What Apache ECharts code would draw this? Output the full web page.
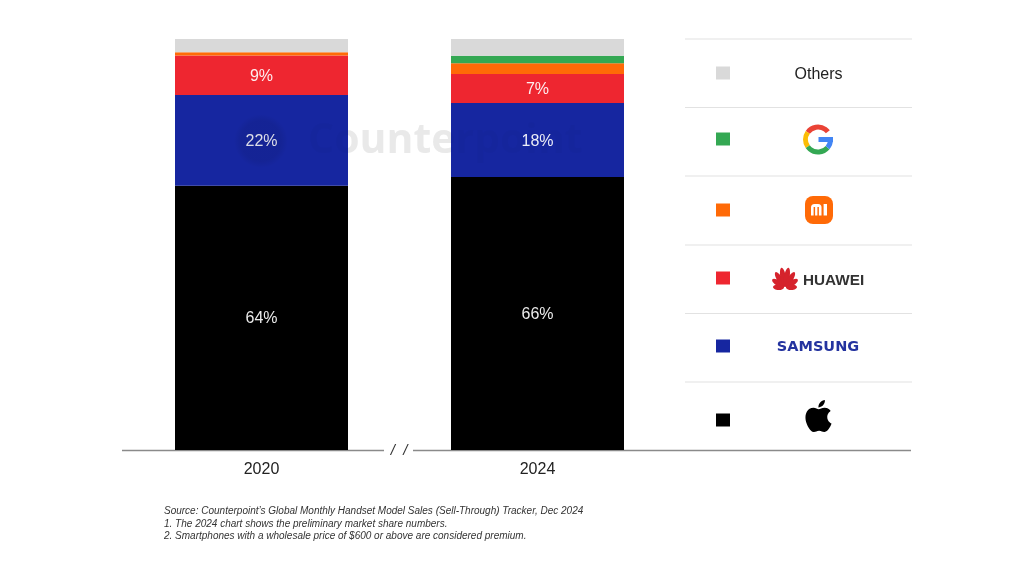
<!DOCTYPE html>
<html><head><meta charset="utf-8">
<style>html,body{margin:0;padding:0;background:#fff}#c{width:1024px;height:576px}</style>
<script src="https://cdn.jsdelivr.net/npm/echarts@6/dist/echarts.min.js"></script>
</head><body><div id="c"></div>
<script>
const years = ['2020', '2024'];
const apple = [64.3, 66.4];
const samsung = [22.1, 18.0];
const huawei = [9.6, 7.1];
const xiaomi = [0.8, 2.6];
const google = [0, 1.8];
const others = [3.2, 4.1];
const appleLabels = ['64%', '66%'];
const samsungLabels = ['22%', '18%'];
const huaweiLabels = ['9%', '7%'];
const colors = { apple: '#000000', samsung: '#1626a0', huawei: '#ee2630', xiaomi: '#ff6a07', google: '#34a853', others: '#d9d9d9' };
const footnotes = [
  'Source: Counterpoint\u2019s Global Monthly Handset Model Sales (Sell-Through) Tracker, Dec 2024',
  '1. The 2024 chart shows the preliminary market share numbers.',
  '2. Smartphones with a wholesale price of $600 or above are considered premium.'
];
const FONT = '"Liberation Sans", Arial, sans-serif';
const APPLE_PATH = 'M12.152 6.896c-.948 0-2.415-1.078-3.96-1.04-2.04.027-3.91 1.183-4.961 3.014-2.117 3.675-.546 9.103 1.519 12.09 1.013 1.454 2.208 3.09 3.792 3.039 1.52-.065 2.09-.987 3.935-.987 1.831 0 2.35.987 3.96.948 1.637-.026 2.676-1.48 3.676-2.948 1.156-1.688 1.636-3.325 1.662-3.415-.039-.013-3.182-1.221-3.22-4.857-.026-3.04 2.48-4.494 2.597-4.559-1.429-2.09-3.623-2.324-4.39-2.376-2-.156-3.675 1.09-4.61 1.09zM15.53 3.83c.843-1.012 1.4-2.427 1.245-3.83-1.207.052-2.662.805-3.532 1.818-.78.896-1.454 2.338-1.273 3.714 1.338.104 2.715-.688 3.559-1.701';

function seg(name, data, color, labels) {
  return {
    name, type: 'bar', stack: 'share', data, barWidth: 173,
    itemStyle: { color },
    label: labels ? { show: true, position: 'inside', offset: [0, 1], color: 'rgba(255,255,255,0.92)', fontSize: 16, fontFamily: FONT,
      formatter: p => labels[p.dataIndex] } : { show: false },
    emphasis: { disabled: true }
  };
}

const g = [];
function hline(x1, x2, y, color, w) {
  g.push({ type: 'line', shape: { x1, y1: y, x2, y2: y }, style: { stroke: color, lineWidth: w }, silent: true });
}
// axis with break
hline(122, 384, 450.5, '#8a8a8a', 1.4);
hline(413, 911, 450.5, '#8a8a8a', 1.4);
g.push({ type: 'text', style: { x: 399, y: 451, text: '/  /', font: 'italic 15px ' + FONT, fill: '#333', align: 'center', verticalAlign: 'middle' } });

// legend dividers
[39, 107.5, 176, 245, 313.5, 382].forEach(y => hline(685, 912, y, '#e2e2e2', 1.2));

// legend squares
[['others', 73], ['google', 139], ['xiaomi', 210], ['huawei', 278], ['samsung', 346], ['apple', 420]].forEach(([k, cy]) => {
  g.push({ type: 'rect', shape: { x: 716, y: cy - 6.5, width: 14, height: 13 }, style: { fill: colors[k] } });
});

// Others
g.push({ type: 'text', style: { x: 818.5, y: 74.5, text: 'Others', font: '16px ' + FONT, fill: '#222', align: 'center', verticalAlign: 'middle' } });

// Google G
const gc = { cx: 818, cy: 139.5, r: 12.5 };
const d = Math.PI / 180;
[['#ea4335', -145, -38], ['#fbbc05', 145, 215], ['#34a853', 40, 145], ['#4285f4', 0, 40]].forEach(([c, a, b]) => {
  g.push({ type: 'arc', shape: { ...gc, startAngle: a * d, endAngle: b * d, clockwise: true }, style: { stroke: c, lineWidth: 5, fill: 'none' } });
});
g.push({ type: 'rect', shape: { x: 818.5, y: 137, width: 14.5, height: 5 }, style: { fill: '#4285f4' } });

// Xiaomi
g.push({ type: 'rect', shape: { x: 805, y: 196, width: 28, height: 28, r: 8 }, style: { fill: '#ff6a07' } });
g.push({ type: 'rect', shape: { x: 811, y: 204, width: 10.5, height: 11.5, r: [3.5, 3.5, 0, 0] }, style: { fill: '#fff' } });
g.push({ type: 'rect', shape: { x: 813.6, y: 207, width: 1.5, height: 9 }, style: { fill: '#ff6a07' } });
g.push({ type: 'rect', shape: { x: 817.4, y: 207, width: 1.5, height: 9 }, style: { fill: '#ff6a07' } });
g.push({ type: 'rect', shape: { x: 823.6, y: 204, width: 3.4, height: 11.5 }, style: { fill: '#fff' } });

// Huawei
[[-88, 11], [-58, 14], [-32, 17], [-10, 19], [10, 19], [32, 17], [58, 14], [88, 11]].forEach(([a, len]) => {
  g.push({ type: 'ellipse', x: 785, y: 287.5, rotation: -a * d,
    shape: { cx: 0, cy: -len / 2 - 1, rx: 2.8, ry: len / 2 }, style: { fill: '#d5232c' } });
});
g.push({ type: 'text', style: { x: 803, y: 280.5, text: 'HUAWEI', font: 'bold 15.3px ' + FONT, fill: '#333', align: 'left', verticalAlign: 'middle' } });

// Samsung
g.push({ type: 'text', style: { x: 818, y: 347, text: 'SAMSUNG', font: 'bold 14.5px "DejaVu Sans", sans-serif', fill: '#24339f', align: 'center', verticalAlign: 'middle' } });

// Footnotes
footnotes.forEach((t, i) => {
  g.push({ type: 'text', style: { x: 164, y: [511.5, 524, 536][i], text: t, font: 'italic 10px ' + FONT, fill: '#333', align: 'left', verticalAlign: 'middle' } });
});

// Watermark: pale grey on the white ground, barely visible over the bars
const WM = { x: 308, y: 141, text: 'Counterpoint', font: 'bold 41px "Open Sans", ' + FONT, align: 'left', verticalAlign: 'middle' };
g.push({ type: 'text', z: 0, style: { ...WM, fill: '#eeeeee' } });
g.push({ type: 'text', z: 20, style: { ...WM, fill: 'rgba(0,0,0,0.02)' } });
g.push({ type: 'circle', z: 20, shape: { cx: 261, cy: 141, r: 27 }, style: {
  fill: new echarts.graphic.RadialGradient(0.5, 0.5, 0.5, [
    { offset: 0, color: 'rgba(0,0,0,0.07)' }, { offset: 0.75, color: 'rgba(0,0,0,0.07)' }, { offset: 1, color: 'rgba(0,0,0,0)' }
  ]) } });

const chart = echarts.init(document.getElementById('c'), null, { renderer: 'canvas' });
chart.setOption({
  animation: false,
  backgroundColor: '#fff',
  grid: { left: 123.5, width: 552, top: 39, bottom: 126 },
  xAxis: { type: 'category', data: years, axisLine: { show: false }, axisTick: { show: false },
    axisLabel: { color: '#222', fontSize: 16, fontFamily: FONT, margin: 12 } },
  yAxis: { type: 'value', min: 0, max: 100, show: false },
  series: [
    seg('Apple', apple, colors.apple, appleLabels),
    seg('Samsung', samsung, colors.samsung, samsungLabels),
    seg('Huawei', huawei, colors.huawei, huaweiLabels),
    seg('Xiaomi', xiaomi, colors.xiaomi),
    seg('Google', google, colors.google),
    seg('Others', others, colors.others),
    { type: 'custom', coordinateSystem: 'none', data: [0], silent: true,
      renderItem: () => ({ type: 'path', shape: { pathData: APPLE_PATH, layout: 'center', x: 804, y: 400, width: 29, height: 32 }, style: { fill: '#000' } }) }
  ],
  graphic: { elements: g }
});
</script></body></html>
